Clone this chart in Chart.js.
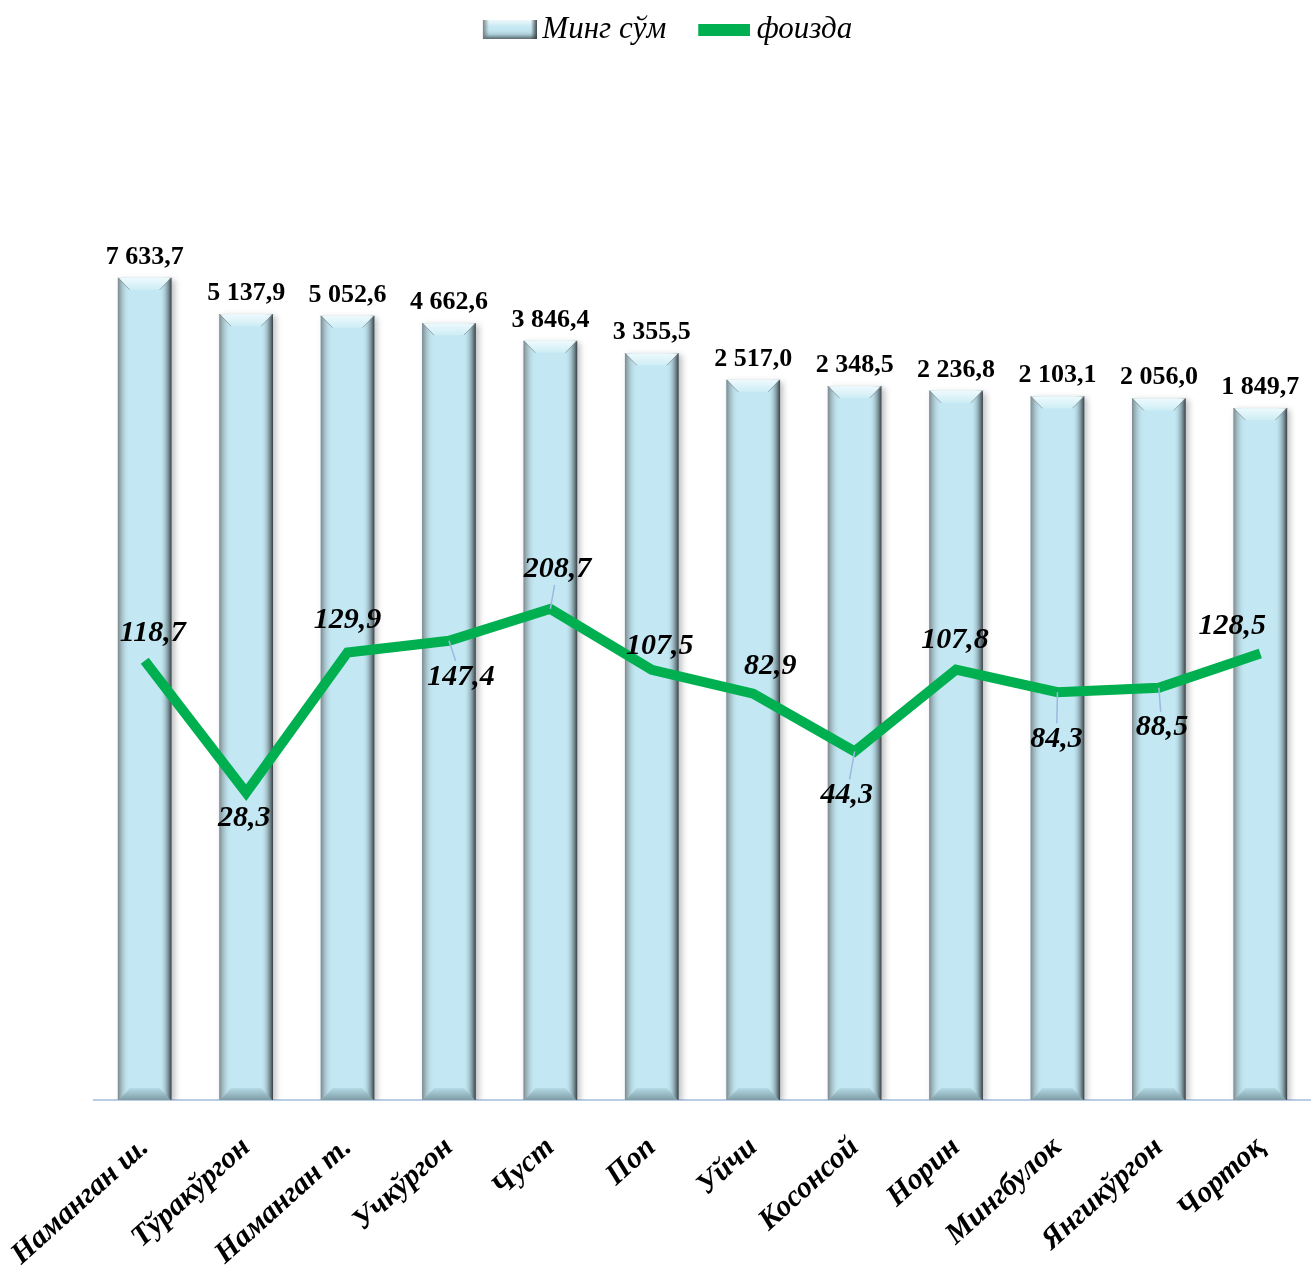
<!DOCTYPE html>
<html>
<head>
<meta charset="utf-8">
<script src="https://cdn.jsdelivr.net/npm/chart.js@4.4.0/dist/chart.umd.min.js"></script>
<style>
  html, body { margin: 0; padding: 0; background: #fff; }
</style>
</head>
<body>
<canvas id="comboChart" width="1311" height="1269"></canvas>
<script>
const categories = ["Наманган ш.", "Тўракўргон", "Наманган т.", "Учкўргон", "Чуст", "Поп",
    "Уйчи", "Косонсой", "Норин", "Мингбулок", "Янгикўргон", "Чортоқ"];
const sumValues = [7633.7, 5137.9, 5052.6, 4662.6, 3846.4, 3355.5, 2517.0, 2348.5, 2236.8, 2103.1, 2056.0, 1849.7];
const percentValues = [118.7, 28.3, 129.9, 147.4, 208.7, 107.5, 82.9, 44.3, 107.8, 84.3, 88.5, 128.5];
const seriesNames = ["Минг сўм", "фоизда"];

// where each percent label sits relative to its point (Excel placed them by hand)
const pctLabelOffsets = [[8, -27], [-2, 26], [0, -32], [12, 36], [7, -40], [8, -24],
    [17, -27], [-8, 44], [-1, -29], [-1, 47], [3, 40], [-28, -27]];
const leaderLines = [3, 4, 7, 9, 10];

const serif = "'Liberation Serif', 'Times New Roman', serif";

fmt = (v) => {
    const parts = v.toFixed(1).split('.');
    return parts[0].replace(/\B(?=(\d{3})+(?!\d))/g, ' ') + ',' + parts[1];
};

// legend icons
makeBarIcon = () => {
    const cv = document.createElement('canvas');
    cv.width = 85; cv.height = 19;
    const c = cv.getContext('2d');
    const x0 = 31, w = 54, h = 19;
    c.fillStyle = '#c3e8f3';
    c.fillRect(x0, 0, w, h);
    let g = c.createLinearGradient(0, 0, 0, h);
    g.addColorStop(0, 'rgba(255,255,255,0.7)');
    g.addColorStop(0.4, 'rgba(255,255,255,0)');
    g.addColorStop(0.75, 'rgba(80,95,100,0.2)');
    g.addColorStop(1, 'rgba(60,70,75,0.8)');
    c.fillStyle = g;
    c.fillRect(x0, 0, w, h);
    g = c.createLinearGradient(x0, 0, x0 + 6, 0);
    g.addColorStop(0, 'rgba(110,120,125,0.9)');
    g.addColorStop(1, 'rgba(110,120,125,0)');
    c.fillStyle = g;
    c.fillRect(x0, 0, 6, h);
    g = c.createLinearGradient(x0 + w, 0, x0 + w - 6, 0);
    g.addColorStop(0, 'rgba(50,58,62,0.9)');
    g.addColorStop(1, 'rgba(50,58,62,0)');
    c.fillStyle = g;
    c.fillRect(x0 + w - 6, 0, 6, h);
    return cv;
};
makeLineIcon = () => {
    const cv = document.createElement('canvas');
    cv.width = 83; cv.height = 12;
    const c = cv.getContext('2d');
    c.fillStyle = '#00b050';
    c.fillRect(31, 0, 52, 12);
    return cv;
};
const legendIcons = [makeBarIcon(), makeLineIcon()];

drawBevel = (c, el) => {
    const w = el.width, x0 = el.x - w / 2, x1 = el.x + w / 2, top = el.y, bot = el.base;
    const b = 12;
    let g = c.createLinearGradient(x0, 0, x0 + b, 0);
    g.addColorStop(0, 'rgba(115,125,130,0.9)');
    g.addColorStop(1, 'rgba(195,232,243,0)');
    c.fillStyle = g;
    c.fillRect(x0, top, b, bot - top);
    g = c.createLinearGradient(x1, 0, x1 - b, 0);
    g.addColorStop(0, 'rgba(45,52,56,0.95)');
    g.addColorStop(1, 'rgba(195,232,243,0)');
    c.fillStyle = g;
    c.fillRect(x1 - b, top, b, bot - top);
    // top cap
    c.beginPath();
    c.moveTo(x0 + 1, top); c.lineTo(x1 - 1, top); c.lineTo(x1 - b, top + b); c.lineTo(x0 + b, top + b);
    c.closePath();
    g = c.createLinearGradient(0, top, 0, top + b);
    g.addColorStop(0, '#eefafd');
    g.addColorStop(1, '#cdedf5');
    c.fillStyle = g;
    c.fill();
    c.strokeStyle = 'rgba(130,140,145,0.7)';
    c.lineWidth = 1;
    c.beginPath();
    c.moveTo(x0, top); c.lineTo(x0 + b, top + b);
    c.moveTo(x1, top); c.lineTo(x1 - b, top + b);
    c.stroke();
    // bottom cap
    c.beginPath();
    c.moveTo(x0 + b, bot - b); c.lineTo(x1 - b, bot - b); c.lineTo(x1 - 1, bot); c.lineTo(x0 + 1, bot);
    c.closePath();
    g = c.createLinearGradient(0, bot - b, 0, bot);
    g.addColorStop(0, '#b4dbe6');
    g.addColorStop(1, '#7f9ca5');
    c.fillStyle = g;
    c.fill();
};

const labelsPlugin = {
    id: 'valueLabels',
    beforeDatasetDraw(chart, args) {
        if (args.index === 0) {
            const c = chart.ctx;
            c.save();
            c.shadowColor = 'rgba(0,0,0,0.25)';
            c.shadowBlur = 6;
            c.shadowOffsetX = 3;
            c.shadowOffsetY = 2;
        }
    },
    afterDatasetDraw(chart, args) {
        if (args.index !== 0) return;
        const c = chart.ctx;
        c.restore();
        c.save();
        args.meta.data.forEach(el => drawBevel(c, el));
        c.restore();
    },
    afterDatasetsDraw(chart) {
        const c = chart.ctx;
        c.save();
        c.fillStyle = '#000';
        c.textAlign = 'center';
        // bar values
        c.font = "bold 26px " + serif;
        c.textBaseline = 'alphabetic';
        chart.getDatasetMeta(0).data.forEach((el, i) => {
            c.fillText(fmt(sumValues[i]), el.x, el.y - 14);
        });
        // percent values
        const pts = chart.getDatasetMeta(1).data;
        c.strokeStyle = '#9db8e0';
        c.lineWidth = 1.5;
        leaderLines.forEach(i => {
            const p = pts[i], o = pctLabelOffsets[i];
            const cy = p.y + o[1];
            const ey = cy - Math.sign(o[1]) * 16;
            const ex = p.x + o[0] * (ey - p.y) / o[1];
            c.beginPath();
            c.moveTo(p.x, p.y);
            c.lineTo(ex, ey);
            c.stroke();
        });
        c.font = "italic bold 30px " + serif;
        c.textBaseline = 'middle';
        pts.forEach((p, i) => {
            const o = pctLabelOffsets[i];
            c.fillText(fmt(percentValues[i]), p.x + o[0], p.y + o[1]);
        });
        c.restore();
    }
};

var ctx = document.getElementById('comboChart').getContext('2d');
var comboChart = new Chart(ctx, {
    data: {
        labels: categories,
        datasets: [{
            type: 'bar',
            label: seriesNames[0],
            data: sumValues,
            backgroundColor: '#c3e8f3',
            barPercentage: 0.53,
            categoryPercentage: 1,
            order: 1
        }, {
            type: 'line',
            label: seriesNames[1],
            data: percentValues,
            borderColor: '#00b050',
            borderWidth: 10,
            borderJoinStyle: 'miter',
            pointRadius: 0,
            tension: 0,
            order: 0
        }]
    },
    options: {
        responsive: false,
        animation: false,
        devicePixelRatio: 1,
        layout: { padding: { left: 3, top: 4, right: 0, bottom: 0 } },
        plugins: {
            tooltip: { enabled: false },
            // empty title used as a spacer between legend and plot
            title: {
                display: true,
                text: '',
                weight: 10,
                font: { size: 1, lineHeight: 1 },
                padding: { top: 0, bottom: 197 }
            },
            legend: {
                position: 'top',
                weight: 1000,
                labels: {
                    usePointStyle: true,
                    pointStyleWidth: 65,
                    padding: 10,
                    color: '#000',
                    font: { family: serif, size: 31, style: 'italic' },
                    generateLabels: (chart) => chart.data.datasets.map((ds, i) => ({
                        text: ds.label,
                        pointStyle: legendIcons[i],
                        fillStyle: 'transparent',
                        strokeStyle: 'transparent',
                        lineWidth: 0,
                        fontColor: '#000',
                        datasetIndex: i
                    }))
                }
            }
        },
        scales: {
            x: {
                grid: { display: false, drawTicks: false },
                border: { display: true, color: '#b9cde5', width: 2 },
                ticks: {
                    autoSkip: false,
                    minRotation: 42,
                    maxRotation: 42,
                    padding: 30,
                    color: '#000',
                    font: { family: serif, size: 30, style: 'italic', weight: 'bold' }
                },
                afterFit: (s) => {
                    s.height = 169;
                    s.paddingLeft = 94;
                    s.paddingRight = 0;
                    s.paddingTop = 0;
                }
            },
            y: {
                type: 'logarithmic',
                min: 1,
                max: 10000,
                display: false
            }
        }
    },
    plugins: [labelsPlugin]
});
</script>
</body>
</html>
